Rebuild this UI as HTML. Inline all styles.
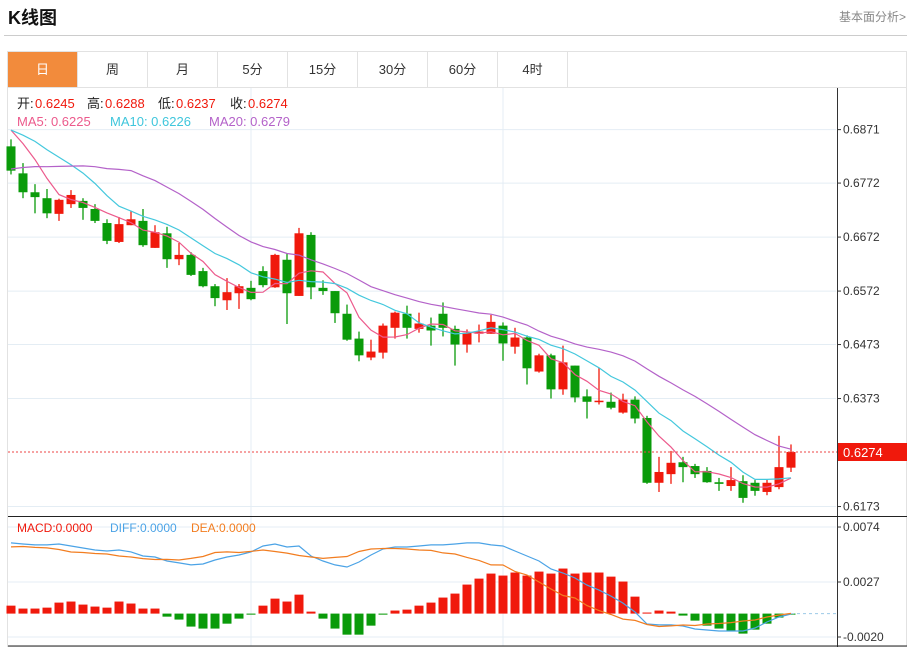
<!DOCTYPE html>
<html><head><meta charset="utf-8"><style>
body{margin:0;width:910px;height:647px;background:#fff;font-family:"Liberation Sans","Noto Sans CJK SC",sans-serif;overflow:hidden;position:relative}
.title{position:absolute;left:8px;top:4px;font-size:18px;font-weight:bold;color:#111}
.more{position:absolute;right:4px;top:8px;font-size:12px;color:#888}
.sep{position:absolute;left:4px;top:35px;width:903px;height:1px;background:#ccc}
.tabs{position:absolute;left:7px;top:51px;width:900px;height:36px;border:1px solid #e2e2e2;border-bottom:none;box-sizing:border-box}
.tab{position:absolute;top:0;width:70px;height:35px;line-height:35px;text-align:center;font-size:13px;color:#333;border-right:1px solid #e2e2e2;box-sizing:border-box}
.tab.on{background:#f28b3c;color:#fff}
svg{position:absolute;left:0;top:0}
</style></head><body>
<div class="title">K线图</div>
<div class="more">基本面分析&gt;</div>
<div class="sep"></div>
<div class="tabs">
<div class="tab on" style="left:0">日</div>
<div class="tab" style="left:70px">周</div>
<div class="tab" style="left:140px">月</div>
<div class="tab" style="left:210px">5分</div>
<div class="tab" style="left:280px">15分</div>
<div class="tab" style="left:350px">30分</div>
<div class="tab" style="left:420px">60分</div>
<div class="tab" style="left:490px">4时</div>
</div>
<svg id="chart" width="910" height="647"></svg>
<script>
const openP=[0.6840,0.6790,0.6755,0.6744,0.6715,0.6733,0.6739,0.6724,0.6698,0.6663,0.6694,0.6702,0.6652,0.6679,0.6631,0.6639,0.6609,0.6581,0.6555,0.6568,0.6578,0.6609,0.6579,0.6630,0.6563,0.6676,0.6578,0.6572,0.6530,0.6484,0.6449,0.6458,0.6504,0.6530,0.6502,0.6508,0.6530,0.6502,0.6473,0.6493,0.6493,0.6508,0.6469,0.6486,0.6423,0.6453,0.6390,0.6434,0.6377,0.6367,0.6367,0.6347,0.6371,0.6337,0.6217,0.6233,0.6255,0.6248,0.6239,0.6218,0.6211,0.6220,0.6217,0.6200,0.6209,0.6245];
const closeP=[0.6795,0.6755,0.6746,0.6716,0.6741,0.6750,0.6726,0.6702,0.6665,0.6696,0.6705,0.6657,0.6681,0.6631,0.6639,0.6602,0.6581,0.6559,0.6570,0.6581,0.6557,0.6583,0.6639,0.6568,0.6679,0.6579,0.6572,0.6531,0.6482,0.6453,0.6460,0.6508,0.6532,0.6504,0.6512,0.6499,0.6504,0.6473,0.6495,0.6497,0.6515,0.6475,0.6486,0.6429,0.6453,0.6390,0.6440,0.6375,0.6367,0.6369,0.6356,0.6371,0.6336,0.6217,0.6237,0.6254,0.6246,0.6233,0.6218,0.6215,0.6222,0.6189,0.6202,0.6217,0.6246,0.6274];
const highP=[0.6853,0.6809,0.6770,0.6761,0.6743,0.6759,0.6744,0.6733,0.6705,0.6709,0.6720,0.6724,0.6694,0.6691,0.6661,0.6644,0.6615,0.6585,0.6596,0.6585,0.6591,0.6618,0.6641,0.6642,0.6689,0.6681,0.6592,0.6572,0.6547,0.6497,0.6482,0.6512,0.6534,0.6545,0.6532,0.6523,0.6551,0.6508,0.6501,0.6510,0.6528,0.6514,0.6504,0.6490,0.6456,0.6456,0.6471,0.6434,0.6390,0.6430,0.6384,0.6382,0.6377,0.6341,0.6265,0.6276,0.6265,0.6252,0.6246,0.6226,0.6246,0.6231,0.6222,0.6224,0.6304,0.6288];
const lowP=[0.6788,0.6744,0.6716,0.6707,0.6702,0.6726,0.6704,0.6698,0.6659,0.6661,0.6694,0.6654,0.6652,0.6615,0.6620,0.6600,0.6579,0.6544,0.6537,0.6539,0.6555,0.6579,0.6578,0.6511,0.6563,0.6557,0.6565,0.6513,0.6480,0.6442,0.6444,0.6447,0.6484,0.6484,0.6495,0.6471,0.6488,0.6434,0.6458,0.6477,0.6493,0.6443,0.6456,0.6399,0.6421,0.6373,0.6380,0.6366,0.6336,0.6362,0.6353,0.6345,0.6327,0.6215,0.6200,0.6215,0.6218,0.6226,0.6217,0.6202,0.6202,0.6180,0.6193,0.6194,0.6205,0.6237];
const priorCloses=[0.6700,0.6710,0.6720,0.6730,0.6740,0.6720,0.6730,0.6735,0.6725,0.6750,0.6850,0.6860,0.6870,0.6880,0.6890,0.6880,0.6895,0.6890,0.6891];
const priceTicks=[0.6871,0.6772,0.6672,0.6572,0.6473,0.6373,0.6173];
const diffV=[0.00604,0.00595,0.00587,0.00587,0.00595,0.00578,0.00561,0.00544,0.00535,0.00544,0.00527,0.00492,0.00484,0.00450,0.00433,0.00416,0.00424,0.00458,0.00484,0.00501,0.00527,0.00578,0.00595,0.00569,0.00578,0.00492,0.00450,0.00416,0.00398,0.00441,0.00501,0.00552,0.00569,0.00569,0.00578,0.00587,0.00587,0.00595,0.00604,0.00604,0.00587,0.00578,0.00535,0.00492,0.00450,0.00381,0.00347,0.00304,0.00244,0.00201,0.00150,0.00090,0.00014,-0.00089,-0.00097,-0.00097,-0.00106,-0.00132,-0.00140,-0.00149,-0.00149,-0.00149,-0.00123,-0.00072,-0.00029,-0.00003];
const macdV=[0.00068,0.00043,0.00043,0.00051,0.00094,0.00103,0.00077,0.00060,0.00051,0.00103,0.00086,0.00043,0.00043,-0.00026,-0.00051,-0.00111,-0.00128,-0.00128,-0.00086,-0.00043,-0.00009,0.00068,0.00128,0.00103,0.00162,0.00017,-0.00043,-0.00128,-0.00180,-0.00180,-0.00103,-0.00009,0.00026,0.00034,0.00068,0.00094,0.00137,0.00171,0.00248,0.00299,0.00342,0.00325,0.00351,0.00325,0.00359,0.00342,0.00385,0.00342,0.00351,0.00351,0.00316,0.00274,0.00145,0.00009,0.00026,0.00017,-0.00017,-0.00060,-0.00103,-0.00128,-0.00145,-0.00171,-0.00137,-0.00086,-0.00034,-0.00009];
const macdTicks=[0.0074,0.0027,-0.0020];

const svg=document.getElementById('chart');
const NS='http://www.w3.org/2000/svg';
function el(tag,attrs,parent){const e=document.createElementNS(NS,tag);for(const k in attrs)e.setAttribute(k,attrs[k]);(parent||svg).appendChild(e);return e;}
const xOf=i=>11+12*i;
const yP=p=>452-(p-0.6274)*5400;
const yM=v=>613.6-v*11700;
const RED='#f0190c',GREEN='#0a9b0a';

// frame
let e;
e=el('rect',{x:7.5,y:87.5,width:899,height:559,fill:'none',stroke:'#e2e2e2'});


// grid main
priceTicks.forEach(t=>{const y=yP(t);
 e=el('line',{x1:8,x2:836,y1:y,y2:y,stroke:'#e4edf4'});
 
 
 e=el('line',{x1:837,x2:841,y1:y,y2:y,stroke:'#333'});
 
 
 e=el('text',{x:843,y:y+4,'font-size':12,fill:'#333'});e.textContent=t.toFixed(4);
 
 
});
macdTicks.forEach(t=>{const y=yM(t);
 e=el('line',{x1:8,x2:836,y1:y,y2:y,stroke:'#e4edf4'});
 
 
 e=el('line',{x1:837,x2:841,y1:y,y2:y,stroke:'#333'});
 
 
 e=el('text',{x:843,y:y+4,'font-size':12,fill:'#333'});e.textContent=t.toFixed(4);
 
 
});
[251,503].forEach(x=>{
 e=el('line',{x1:x,x2:x,y1:88,y2:646,stroke:'#e4edf4'});
 
 
});
// axis lines
e=el('line',{x1:837.5,x2:837.5,y1:88,y2:647,stroke:'#333'});


e=el('line',{x1:8,x2:907,y1:516.5,y2:516.5,stroke:'#222'});


e=el('line',{x1:8,x2:907,y1:646,y2:646,stroke:'#222'});



// candles
const n=closeP.length;
for(let i=0;i<n;i++){
 const up=closeP[i]>=openP[i];const c=up?RED:GREEN;const x=xOf(i);
 const g=el('g',{});
 
 
 el('line',{x1:x,x2:x,y1:yP(highP[i]),y2:yP(lowP[i]),stroke:c,'stroke-width':1.3},g);
 const t=Math.min(yP(openP[i]),yP(closeP[i]));const h=Math.max(1.5,Math.abs(yP(openP[i])-yP(closeP[i])));
 el('rect',{x:x-4.5,y:t,width:9,height:h,fill:c},g);
}
// MAs
const allC=priorCloses.concat(closeP);
function ma(k){const out=[];for(let i=0;i<n;i++){let s=0;const j=i+priorCloses.length;for(let m=0;m<k;m++)s+=allC[j-m];out.push(s/k);}return out;}
[[5,'#ec5a8c','ma5-line'],[10,'#44c8dd','ma10-line'],[20,'#b462c9','ma20-line']].forEach(([k,col,nm])=>{
 const v=ma(k);const d=v.map((p,i)=>(i?'L':'M')+xOf(i)+','+yP(p).toFixed(1)).join('');
 e=el('path',{d:d,fill:'none',stroke:col,'stroke-width':1.2});
 
 
});
// current price line & label
const last=closeP[n-1];
e=el('line',{x1:8,x2:837,y1:yP(last),y2:yP(last),stroke:'#e44','stroke-dasharray':'2,2'});


e=el('rect',{x:838,y:yP(last)-9,width:69,height:18,fill:'#f0190c'});


e=el('text',{x:843,y:yP(last)+5,'font-size':13,fill:'#fff'});e.textContent=last.toFixed(4);



// MACD bars
for(let i=0;i<n;i++){const v=macdV[i];const y0=yM(0),y1=yM(v);
 e=el('rect',{x:xOf(i)-4.5,y:Math.min(y0,y1),width:9,height:Math.max(1,Math.abs(y1-y0)),fill:v>=0?RED:GREEN});
 
 
}
e=el('line',{x1:xOf(n-1),x2:837,y1:yM(0),y2:yM(0),stroke:'#9cc9e8','stroke-dasharray':'3,3'});


const deaV=diffV.map((d,i)=>d-macdV[i]/2);
e=el('path',{d:diffV.map((v,i)=>(i?'L':'M')+xOf(i)+','+yM(v).toFixed(1)).join(''),fill:'none',stroke:'#4ba3e6','stroke-width':1.2});


e=el('path',{d:deaV.map((v,i)=>(i?'L':'M')+xOf(i)+','+yM(v).toFixed(1)).join(''),fill:'none',stroke:'#f27d20','stroke-width':1.2});



// legends
function txt(x,y,s,col,nm,sz){const t=el('text',{x:x,y:y,'font-size':sz||13,fill:col});t.textContent=s;
 
 return t;}
txt(17,108,'开:','#222','open-label');txt(35,108,'0.6245','#f0190c','open-value');
txt(87,108,'高:','#222','high-label');txt(105,108,'0.6288','#f0190c','high-value');
txt(158,108,'低:','#222','low-label');txt(176,108,'0.6237','#f0190c','low-value');
txt(230,108,'收:','#222','close-label');txt(248,108,'0.6274','#f0190c','close-value');
txt(17,126,'MA5: 0.6225','#ec5a8c','ma5-legend');
txt(110,126,'MA10: 0.6226','#3fc6dc','ma10-legend');
txt(209,126,'MA20: 0.6279','#b462c9','ma20-legend');
txt(17,532,'MACD:0.0000','#f0190c','macd-legend',12);
txt(110,532,'DIFF:0.0000','#4ba3e6','diff-legend',12);
txt(191,532,'DEA:0.0000','#f27d20','dea-legend',12);
</script>
</body></html>
